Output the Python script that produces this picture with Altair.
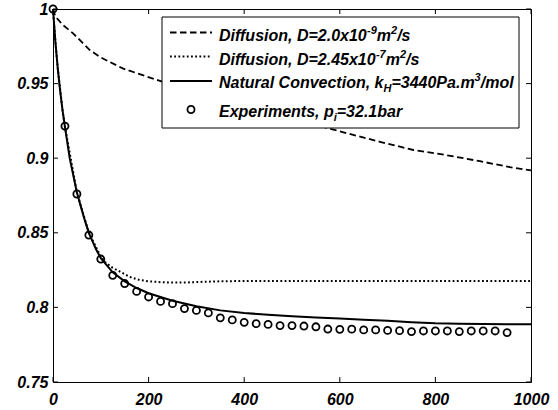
import altair as alt
import pandas as pd

# ---------------- data ----------------
x_ticks = [0, 200, 400, 600, 800, 1000]
y_ticks = [0.75, 0.8, 0.85, 0.9, 0.95, 1.0]

dash_t = [0, 5, 20, 42, 77, 100, 147, 222, 300, 400, 500, 600, 684, 754, 824, 893, 956, 1000]
dash_y = [1.0, 0.995, 0.9895, 0.9837, 0.9725, 0.9675, 0.960, 0.952, 0.944, 0.935, 0.9265,
          0.918, 0.911, 0.9055, 0.902, 0.898, 0.894, 0.8918]

dot_t = [0, 5, 10, 20, 25, 50, 75, 100, 110, 125, 140, 160, 180, 200, 230, 270, 300, 350,
         400, 500, 600, 700, 800, 900, 1000]
dot_y = [1.0, 0.978, 0.960, 0.932, 0.921, 0.877, 0.850, 0.834, 0.830, 0.8265, 0.824, 0.8205,
         0.8185, 0.8175, 0.8168, 0.8166, 0.817, 0.8175, 0.8177, 0.8177, 0.8177, 0.8177,
         0.8177, 0.8177, 0.8177]

conv_t = [0, 5, 10, 15, 20, 25, 35, 50, 65, 75, 90, 100, 125, 150, 175, 200, 250, 300, 350,
          400, 450, 500, 550, 600, 650, 700, 750, 800, 850, 900, 950, 1000]
conv_y = [1.0, 0.978, 0.960, 0.945, 0.932, 0.921, 0.900, 0.877, 0.860, 0.850, 0.839, 0.833,
          0.8235, 0.8175, 0.813, 0.8095, 0.8045, 0.8008, 0.798, 0.7963, 0.795, 0.794, 0.7933,
          0.7925, 0.7918, 0.791, 0.790, 0.7893, 0.789, 0.7888, 0.7887, 0.7887]

exp_t = [0, 25, 50, 75, 100, 125, 150, 175, 200, 225, 250, 275, 300, 325, 350, 375, 400,
         425, 450, 475, 500, 525, 550, 575, 600, 625, 650, 675, 700, 725, 750, 775, 800,
         825, 850, 875, 900, 925, 950]
exp_y = [1.0, 0.9215, 0.876, 0.8485, 0.8324, 0.8215, 0.816, 0.8107, 0.807, 0.804, 0.8025,
         0.7992, 0.798, 0.7963, 0.793, 0.7916, 0.790, 0.7891, 0.7886, 0.7878, 0.7878, 0.7875,
         0.787, 0.7855, 0.7853, 0.7854, 0.7849, 0.7849, 0.7846, 0.7844, 0.7838, 0.7842,
         0.7842, 0.7842, 0.7838, 0.7842, 0.7842, 0.7842, 0.7831]

# legend text pieces: (text, kind)  kind: n normal, sup superscript, sub subscript
legend_rows = [
    [("Diffusion, D=2.0x10", "n"), ("-9", "sup"), ("m", "n"), ("2", "sup"), ("/s", "n")],
    [("Diffusion, D=2.45x10", "n"), ("-7", "sup"), ("m", "n"), ("2", "sup"), ("/s", "n")],
    [("Natural Convection, k", "n"), ("H", "sub"), ("=3440Pa.m", "n"), ("3", "sup"), ("/mol", "n")],
    [("Experiments, p", "n"), ("i", "sub"), ("=32.1bar", "n")],
]

# ---------------- layout ----------------
W, H = 478, 373
FONT = "Liberation Sans"

xs = alt.Scale(domain=[0, 1000], nice=False, zero=False)
ys = alt.Scale(domain=[0.75, 1.0], nice=False, zero=False)

ax_x = alt.Axis(values=x_ticks, format="d", ticks=False, tickSize=0, domain=False,
                grid=False, labelPadding=9, labelFlush=False, labelOverlap=False,
                labelBaseline="top")
ax_y = alt.Axis(values=y_ticks, format="~g", ticks=False, tickSize=0, domain=False,
                grid=False, labelPadding=5, labelFlush=False, labelOverlap=False)


def X(f):
    return alt.X(f, scale=xs, axis=ax_x, title=None)


def Y(f):
    return alt.Y(f, scale=ys, axis=ax_y, title=None)


def line_layer(t, y, **kw):
    df = pd.DataFrame({"t": t, "y": y})
    return alt.Chart(df).mark_line(color="black", **kw).encode(x=X("t:Q"), y=Y("y:Q"))


dashed = line_layer(dash_t, dash_y, strokeWidth=1.8, strokeDash=[6.5, 3.5])
dotted = line_layer(dot_t, dot_y, strokeWidth=2, strokeDash=[1.8, 2.4])
solid = line_layer(conv_t, conv_y, strokeWidth=2)
points = alt.Chart(pd.DataFrame({"t": exp_t, "y": exp_y})).mark_point(
    shape="circle", filled=False, size=50, strokeWidth=1.8, color="black", opacity=1
).encode(x=X("t:Q"), y=Y("y:Q"))

# inward ticks on all four sides
xt = pd.DataFrame({"v": x_ticks})
yt = pd.DataFrame({"v": y_ticks})
TL = 5
tick_layers = [
    alt.Chart(xt).mark_rule(color="black", strokeWidth=1).encode(
        x=X("v:Q"), y=alt.value(H), y2=alt.value(H - TL)),
    alt.Chart(xt).mark_rule(color="black", strokeWidth=1).encode(
        x=X("v:Q"), y=alt.value(0), y2=alt.value(TL)),
    alt.Chart(yt).mark_rule(color="black", strokeWidth=1).encode(
        y=Y("v:Q"), x=alt.value(0), x2=alt.value(TL)),
    alt.Chart(yt).mark_rule(color="black", strokeWidth=1).encode(
        y=Y("v:Q"), x=alt.value(W), x2=alt.value(W - TL)),
]

# ---------------- manual legend ----------------
one = pd.DataFrame({"a": [0]})
LX0, LX1, LY0, LY1 = 109, 466, 8, 119
box = alt.Chart(one).mark_rect(fill="white", stroke="black", strokeWidth=1).encode(
    x=alt.value(LX0), x2=alt.value(LX1), y=alt.value(LY0), y2=alt.value(LY1))

sym_y = [23.5, 47.5, 72, 100.5]
base_y = [31.5, 56, 78.5, 107.5]
SX0, SX1 = 117, 159
TX = 166

leg_layers = [box]
leg_layers.append(alt.Chart(one).mark_rule(color="black", strokeWidth=1.8, strokeDash=[6.5, 3.5]).encode(
    x=alt.value(SX0), x2=alt.value(SX1), y=alt.value(sym_y[0])))
leg_layers.append(alt.Chart(one).mark_rule(color="black", strokeWidth=1.8, strokeDash=[1.8, 2.4]).encode(
    x=alt.value(SX0), x2=alt.value(SX1), y=alt.value(sym_y[1])))
leg_layers.append(alt.Chart(one).mark_rule(color="black", strokeWidth=2).encode(
    x=alt.value(SX0), x2=alt.value(SX1), y=alt.value(sym_y[2])))
leg_layers.append(alt.Chart(one).mark_point(
    shape="circle", filled=False, size=50, strokeWidth=1.8, color="black", opacity=1).encode(
    x=alt.value((SX0 + SX1) / 2), y=alt.value(sym_y[3])))

# Arial/Helvetica bold advance widths (per 1000 em) for width estimation
CW = {' ': 278, ',': 278, '.': 278, '/': 278, '=': 584, '-': 333,
      'D': 722, 'N': 722, 'C': 722, 'E': 667, 'H': 722, 'P': 667,
      'a': 556, 'b': 611, 'c': 556, 'e': 556, 'f': 333, 'i': 278, 'k': 556, 'l': 278,
      'm': 889, 'n': 611, 'o': 611, 'p': 611, 'r': 389, 's': 556, 't': 333, 'u': 611,
      'v': 556, 'x': 556}


def text_w(s, fs):
    return sum(CW.get(c, 556) for c in s) * fs / 1000.0


KIND = {"n": (16, 0), "sup": (11, -7), "sub": (11, 4)}
for row, by in zip(legend_rows, base_y):
    cx = TX
    for seg, kind in row:
        fs, dy = KIND[kind]
        leg_layers.append(alt.Chart(one).mark_text(
            text=seg, align="left", baseline="alphabetic", font=FONT, fontSize=fs,
            fontWeight="bold", fontStyle="italic", color="black").encode(
            x=alt.value(cx), y=alt.value(by + dy)))
        cx += text_w(seg, fs)

chart = alt.layer(dashed, dotted, solid, points, *tick_layers, *leg_layers).properties(
    width=W, height=H,
    autosize=alt.AutoSizeParams(type="none"),
    padding={"left": 53, "top": 9, "right": 27, "bottom": 28},
    background="white",
).configure_view(
    stroke="black", strokeWidth=1
).configure_axis(
    labelFont=FONT, labelFontSize=16, labelFontWeight="bold", labelFontStyle="italic",
    labelColor="black"
)

chart.save("out.html", embed_options={"renderer": "svg", "actions": False})
